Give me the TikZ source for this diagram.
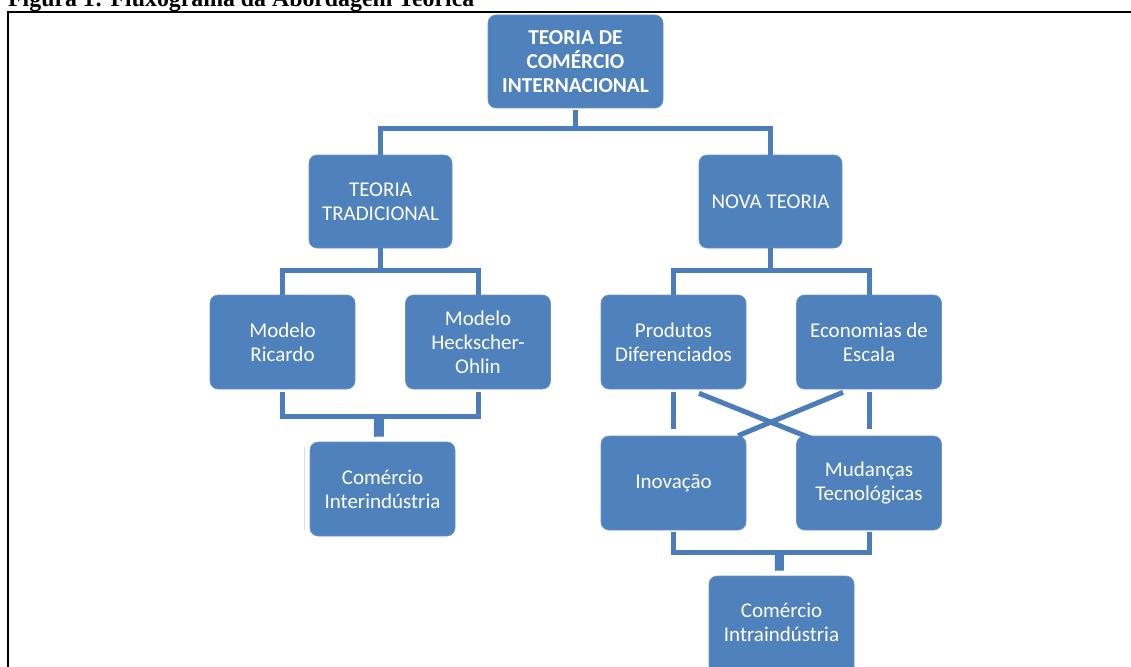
\documentclass[tikz,border=0pt]{standalone}
\usepackage{fontspec}
\setmainfont{Carlito}
\newfontfamily\titlefont{Liberation Serif}
\usetikzlibrary{calc}
\definecolor{boxblue}{HTML}{4F81BD}
\definecolor{linkblue}{HTML}{4A7DBA}
\tikzset{
  box/.style={fill=boxblue, draw=boxblue!85!white, line width=0.6pt, rounded corners=8pt,
    minimum width=145pt, minimum height=94pt, align=center, text=white,
    font=\fontsize{21}{24}\selectfont, inner sep=2pt},
  topbox/.style={box, minimum width=175pt, minimum height=93pt, font=\bfseries\fontsize{21.3}{24}\selectfont},
  conn/.style={draw=linkblue, line width=5pt},
  stub/.style={draw=linkblue, line width=10pt},
}
\begin{document}
\begin{tikzpicture}[x=1pt,y=-1pt]
\useasboundingbox (0,0) rectangle (1131,666);
\begin{scope}
\clip (0,0) rectangle (1131,666);
\node[anchor=base west, inner sep=0pt, font=\titlefont\bfseries] (title) at (8,7)
  {\resizebox{466pt}{!}{Figura 1: Fluxograma da Abordagem Teórica}};
\draw[line width=1.6pt] (8,690) -- (8,12) -- (1145,12);
% nodes
\node[topbox] (top) at (575.5,61.5) {TEORIA DE\\COMÉRCIO\\INTERNACIONAL};
\node[box, minimum width=143pt, minimum height=93pt] (tt) at (380.5,201.5) {TEORIA\\TRADICIONAL};
\node[box, minimum width=143pt, minimum height=93pt] (nt) at (770.5,201.5) {NOVA TEORIA};
\node[box] (mr) at (282.5,342) {Modelo\\Ricardo};
\node[box] (ho) at (478,342) {Modelo\\Heckscher-\\Ohlin};
\node[box] (ci) at (382.5,489) {Comércio\\Interindústria};
\node[box] (pd) at (673.5,342) {Produtos\\Diferenciados};
\node[box] (ee) at (869,342) {Economias de\\Escala};
\node[box] (in) at (673.5,483) {Inovação};
\node[box] (mt) at (869,483) {Mudanças\\Tecnológicas};
\node[box, minimum height=110pt, text depth=18pt] (cintra) at (781.5,631) {Comércio\\Intraindústria};
% connectors
\draw[conn] ($(top.south)+(0,2)$) -- ++(0,18) coordinate (j1);
\draw[conn] (tt.north) |- (j1) -| (nt.north);
\draw[conn] (tt.south) -- ++(0,22) coordinate (j2);
\draw[conn] (mr.north) |- (j2) -| (ho.north);
\draw[conn] (nt.south) -- ++(0,22) coordinate (j3);
\draw[conn] (pd.north) |- (j3) -| (ee.north);
\draw[conn] ($(mr.south)+(0,3)$) -- ++(0,24) -| ($(ho.south)+(0,3)$);
\draw[stub] ($(mr.south)!0.5!(ho.south)+(-1.5,27)$) -- ($(ci.north)+(-3.5,-5)$);
\draw[line width=1pt, draw=boxblue!25!white] ($(ci.north west)+(-5,5)$) -- ($(ci.south west)+(-5,-6)$);
\draw[conn] ($(pd.south)+(0,3)$) -- ($(in.north)+(0,-7)$);
\draw[conn] ($(ee.south)+(0,3)$) -- ($(mt.north)+(0,-7)$);
\draw[conn] ($(pd.south)+(25.5,4)$) -- ($(mt.north)+(-57,3)$);
\draw[conn] ($(ee.south)+(-26,3)$) -- ($(in.north)+(64.5,0)$);
\draw[conn] ($(in.south)+(0,2)$) -- ++(0,20) -| ($(mt.south)+(0,2)$);
\draw[draw=linkblue, line width=9pt] ($(in.south)!0.5!(mt.south)+(8,20)$) -- ($(cintra.north)+(-2,-5)$);
\end{scope}
\end{tikzpicture}
\end{document}
